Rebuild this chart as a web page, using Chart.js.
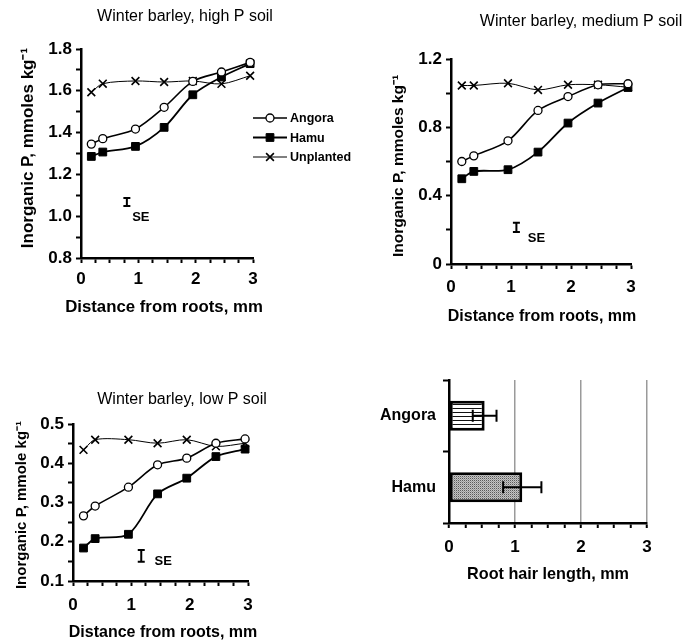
<!DOCTYPE html>
<html>
<head>
<meta charset="utf-8">
<script src="https://cdn.jsdelivr.net/npm/chart.js@4.4.1/dist/chart.umd.min.js"></script>
<style>
  html, body { margin: 0; padding: 0; background: #fff; }
  #page { position: relative; width: 688px; height: 643px; overflow: hidden; }
  canvas { position: absolute; }
</style>
</head>
<body>
<div id="page">
  <canvas id="ch-high" width="380" height="330" style="left:0;top:0"></canvas>
  <canvas id="ch-medium" width="344" height="330" style="left:344px;top:0"></canvas>
  <canvas id="ch-low" width="344" height="263" style="left:0;top:380px"></canvas>
  <canvas id="ch-hair" width="344" height="283" style="left:344px;top:360px"></canvas>
</div>
<script>
// soil slices, distance from root plane (mm)
const distances = [0.18, 0.38, 0.95, 1.45, 1.95, 2.45, 2.95];

const highAngora    = [1.345, 1.371, 1.417, 1.521, 1.645, 1.690, 1.736];
const highHamu      = [1.286, 1.307, 1.334, 1.425, 1.581, 1.666, 1.730];
const highUnplanted = [1.593, 1.634, 1.647, 1.642, 1.647, 1.633, 1.672];

const medAngora    = [0.600, 0.633, 0.721, 0.899, 0.980, 1.049, 1.055];
const medHamu      = [0.499, 0.542, 0.552, 0.655, 0.825, 0.942, 1.033];
const medUnplanted = [1.045, 1.045, 1.058, 1.019, 1.049, 1.049, 1.035];

const lowAngora    = [0.266, 0.291, 0.339, 0.396, 0.413, 0.451, 0.462];
const lowHamu      = [0.184, 0.208, 0.219, 0.322, 0.362, 0.417, 0.436];
const lowUnplanted = [0.434, 0.460, 0.460, 0.451, 0.460, 0.443, 0.451];

// SE mark: [distance, centre, half range]
const seHigh = [0.80, 1.068, 0.019];
const seMed  = [1.09, 0.214, 0.027];
const seLow  = [1.17, 0.164, 0.015];

const cultivars  = ['Angora', 'Hamu'];
const hairLength = [0.54, 1.11];
const hairSE     = [0.18, 0.29];

const FONT = "'Liberation Sans', Arial, sans-serif";
const ink = '#000';
Chart.defaults.font.family = FONT;
Chart.defaults.color = ink;

const tickFont = { size: 17, weight: 'bold' };
const axisBorder = { color: ink, width: 2.5 };
const outTicks = { drawOnChartArea: false, tickLength: 5, tickColor: ink, tickWidth: 2 };
const intLabel = v => Math.abs(v - Math.round(v)) < 1e-6 ? String(Math.round(v)) : '';

function lineSets(angora, hamu, unplanted) {
  const pts = ys => distances.map((x, i) => ({ x, y: ys[i] }));
  const base = { borderColor: ink, pointBorderColor: ink, tension: 0.3, clip: false };
  return [
    { ...base, label: 'Angora', data: pts(angora), borderWidth: 1.6, pointStyle: 'circle', pointRadius: 4, pointBackgroundColor: '#fff', pointBorderWidth: 1.3 },
    { ...base, label: 'Hamu', data: pts(hamu), borderWidth: 1.8, pointStyle: 'rect', pointRadius: 5.5, pointBackgroundColor: ink, pointBorderWidth: 1 },
    { ...base, label: 'Unplanted', data: pts(unplanted), borderWidth: 1, pointStyle: 'crossRot', pointRadius: 5.5, pointBorderWidth: 1.6 },
  ];
}

function distanceAxis(height, labelPad) {
  return {
    type: 'linear', min: 0, max: 3,
    afterFit: s => { s.height = height; },
    border: axisBorder,
    grid: outTicks,
    ticks: { stepSize: 0.25, autoSkip: false, maxRotation: 0, padding: labelPad, font: tickFont, callback: intLabel },
  };
}

function pAxis(min, max, step, every, width) {
  return {
    min, max,
    afterFit: s => { s.width = width; },
    border: axisBorder,
    grid: outTicks,
    ticks: {
      stepSize: step, autoSkip: false, padding: 4, font: tickFont,
      callback: v => Math.round(v / step) % every === 0 ? (Math.abs(v) < 1e-9 ? '0' : v.toFixed(1)) : '',
    },
  };
}

function marker(ctx, style, x, y, r) {
  ctx.beginPath();
  if (style === 'circle') {
    ctx.arc(x, y, r, 0, Math.PI * 2);
    ctx.fill(); ctx.stroke();
  } else if (style === 'rect') {
    const h = r * Math.SQRT1_2;
    ctx.rect(x - h, y - h, 2 * h, 2 * h);
    ctx.fill(); ctx.stroke();
  } else {
    const h = r * Math.SQRT1_2;
    ctx.moveTo(x - h, y - h); ctx.lineTo(x + h, y + h);
    ctx.moveTo(x - h, y + h); ctx.lineTo(x + h, y - h);
    ctx.stroke();
  }
}

// free text (titles are drawn here so chart.js does not squeeze them to the axis length)
function label(ctx, t, font, rotate) {
  ctx.save();
  ctx.translate(t.x, t.y);
  if (rotate) ctx.rotate(-Math.PI / 2);
  ctx.font = font;
  ctx.fillStyle = ink;
  ctx.textAlign = 'center';
  ctx.textBaseline = 'middle';
  ctx.fillText(t.text, 0, 0);
  ctx.restore();
}

// panel title, axis titles, SE mark and (first panel only) the legend
function extras({ title, xTitle, yTitle, se, seDx, seDy, legend }) {
  return {
    id: 'extras',
    afterDatasetsDraw(chart) {
      const { ctx, scales: { x, y } } = chart;
      label(ctx, title, `16px ${FONT}`);
      label(ctx, xTitle, `bold ${xTitle.size}px ${FONT}`);
      label(ctx, yTitle, `bold ${yTitle.size}px ${FONT}`, true);

      ctx.save();
      const [sx, sy, half] = se;
      const px = x.getPixelForValue(sx);
      const top = y.getPixelForValue(sy + half), bot = y.getPixelForValue(sy - half);
      ctx.strokeStyle = ink;
      ctx.lineWidth = 2;
      ctx.beginPath();
      ctx.moveTo(px, top); ctx.lineTo(px, bot);
      ctx.moveTo(px - 3.5, top); ctx.lineTo(px + 3.5, top);
      ctx.moveTo(px - 3.5, bot); ctx.lineTo(px + 3.5, bot);
      ctx.stroke();
      ctx.restore();
      label(ctx, { text: 'SE', x: px + seDx, y: bot + seDy }, `bold 13px ${FONT}`);

      if (legend) {
        ctx.save();
        ctx.textAlign = 'left';
        ctx.textBaseline = 'middle';
        ctx.font = `bold 12.5px ${FONT}`;
        chart.data.datasets.forEach((ds, i) => {
          const ly = legend.y + i * legend.gap;
          ctx.strokeStyle = ds.borderColor;
          ctx.lineWidth = ds.borderWidth;
          ctx.beginPath();
          ctx.moveTo(legend.x, ly); ctx.lineTo(legend.x + 34, ly);
          ctx.stroke();
          ctx.fillStyle = ds.pointBackgroundColor || ink;
          ctx.lineWidth = ds.pointBorderWidth;
          marker(ctx, ds.pointStyle, legend.x + 17, ly, ds.pointRadius);
          ctx.fillStyle = ink;
          ctx.fillText(ds.label, legend.x + 37, ly + 1);
        });
        ctx.restore();
      }
    },
  };
}

function profileChart(id, datasets, cfg) {
  return new Chart(document.getElementById(id), {
    type: 'line',
    data: { datasets },
    options: {
      responsive: false, animation: false,
      layout: { padding: cfg.padding },
      plugins: { legend: { display: false }, tooltip: { enabled: false } },
      scales: { x: cfg.x, y: cfg.y },
    },
    plugins: [extras(cfg.extras)],
  });
}

const distTitle = 'Distance from roots, mm';

profileChart('ch-high', lineSets(highAngora, highHamu, highUnplanted), {
  padding: { left: 0, top: 49, right: 127, bottom: 0 },
  x: distanceAxis(72, 6),
  y: pAxis(0.8, 1.8, 0.1, 2, 81),
  extras: {
    title: { text: 'Winter barley, high P soil', x: 185, y: 17 },
    xTitle: { text: distTitle, x: 164, y: 307, size: 16.8 },
    yTitle: { text: 'Inorganic P, mmoles kg\u207B\u00B9', x: 28, y: 148, size: 17 },
    se: seHigh, seDx: 14, seDy: 11,
    legend: { x: 253, y: 118, gap: 19.5 },
  },
});

profileChart('ch-medium', lineSets(medAngora, medHamu, medUnplanted), {
  padding: { left: 0, top: 59, right: 57, bottom: 0 },
  x: distanceAxis(66, 8),
  y: pAxis(0, 1.2, 0.2, 2, 107),
  extras: {
    title: { text: 'Winter barley, medium P soil', x: 237, y: 22 },
    xTitle: { text: distTitle, x: 198, y: 317, size: 16 },
    yTitle: { text: 'Inorganic P, mmoles kg\u207B\u00B9', x: 55, y: 166, size: 15.5 },
    se: seMed, seDx: 20, seDy: 6,
  },
});

profileChart('ch-low', lineSets(lowAngora, lowHamu, lowUnplanted), {
  padding: { left: 0, top: 44, right: 96, bottom: 0 },
  x: distanceAxis(62, 9),
  y: pAxis(0.1, 0.5, 0.05, 2, 73),
  extras: {
    title: { text: 'Winter barley, low P soil', x: 182, y: 20 },
    xTitle: { text: distTitle, x: 163, y: 253, size: 16 },
    yTitle: { text: 'Inorganic P, mmole kg\u207B\u00B9', x: 22, y: 125, size: 15 },
    se: seLow, seDx: 22, seDy: 0,
  },
});

// bar fills: horizontal hatching and grey stipple
const hairCtx = document.getElementById('ch-hair').getContext('2d');
function tile(w, h, draw) {
  const c = document.createElement('canvas');
  c.width = w; c.height = h;
  draw(c.getContext('2d'));
  return hairCtx.createPattern(c, 'repeat');
}
const hatch = tile(4, 4, g => {
  g.fillStyle = '#fff'; g.fillRect(0, 0, 4, 4);
  g.fillStyle = '#111'; g.fillRect(0, 0, 4, 1);
});
const stipple = tile(2, 2, g => {
  g.fillStyle = '#c4c4c4'; g.fillRect(0, 0, 2, 2);
  g.fillStyle = '#5a5a5a'; g.fillRect(0, 0, 1, 1);
  g.fillStyle = '#9c9c9c'; g.fillRect(1, 1, 1, 1);
});

const hairExtras = {
  id: 'hairExtras',
  afterDatasetsDraw(chart) {
    const { ctx, scales: { x } } = chart;
    const bars = chart.getDatasetMeta(0).data;
    ctx.save();
    ctx.strokeStyle = ink;
    ctx.lineWidth = 2;
    bars.forEach((bar, i) => {
      const lo = x.getPixelForValue(hairLength[i] - hairSE[i]);
      const hi = x.getPixelForValue(hairLength[i] + hairSE[i]);
      ctx.beginPath();
      ctx.moveTo(lo, bar.y); ctx.lineTo(hi, bar.y);
      ctx.moveTo(lo, bar.y - 6); ctx.lineTo(lo, bar.y + 6);
      ctx.moveTo(hi, bar.y - 6); ctx.lineTo(hi, bar.y + 6);
      ctx.stroke();
    });
    ctx.restore();
    label(ctx, { text: 'Root hair length, mm', x: 204, y: 215 }, `bold 16.2px ${FONT}`);
  },
};

new Chart(hairCtx, {
  type: 'bar',
  data: {
    labels: cultivars,
    datasets: [{
      data: hairLength, backgroundColor: [hatch, stipple], borderColor: ink, borderWidth: 3,
      borderSkipped: false, barPercentage: 0.42, categoryPercentage: 1,
    }],
  },
  options: {
    indexAxis: 'y', responsive: false, animation: false,
    layout: { padding: { left: 0, top: 20, right: 41, bottom: 0 } },
    plugins: { legend: { display: false }, tooltip: { enabled: false } },
    scales: {
      x: {
        min: 0, max: 3,
        afterFit: s => { s.height = 120; },
        border: axisBorder,
        grid: {
          color: c => c.tick && c.tick.value > 0 && Number.isInteger(c.tick.value) ? '#9a9a9a' : 'rgba(0,0,0,0)',
          lineWidth: 1.5, tickLength: 5, tickColor: ink, tickWidth: 2,
        },
        ticks: { stepSize: 0.25, autoSkip: false, maxRotation: 0, padding: 9, font: tickFont, callback: intLabel },
      },
      y: {
        afterFit: s => { s.width = 105; },
        border: axisBorder,
        grid: { drawOnChartArea: false, tickLength: 6, tickColor: ink, tickWidth: 2 },
        ticks: { font: { size: 16, weight: 'bold' }, padding: 7 },
      },
    },
  },
  plugins: [hairExtras],
});
</script>
</body>
</html>
